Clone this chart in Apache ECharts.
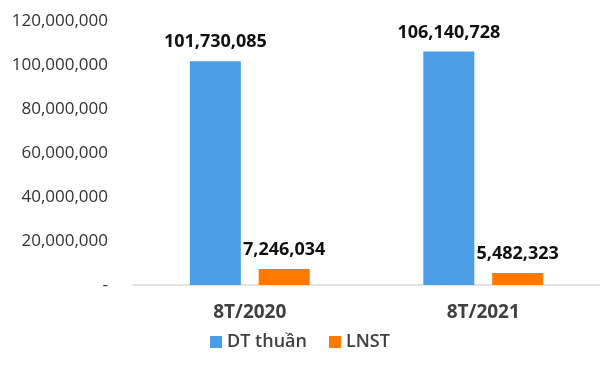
<!DOCTYPE html>
<html><head><meta charset="utf-8">
<script src="https://cdn.jsdelivr.net/npm/echarts@6/dist/echarts.min.js"></script>
<style>html,body{margin:0;padding:0;background:#fff}#c{width:600px;height:371px}</style>
</head><body><div id="c"></div>
<script>
var categories = ['8T/2020', '8T/2021'];
var dtThuan = [101730085, 106140728];
var lnst = [7246034, 5482323];
var seriesNames = ['DT thuần', 'LNST'];
var yTicks = [0, 20000000, 40000000, 60000000, 80000000, 100000000, 120000000];

function fmt(v){ return v === 0 ? '-' : v.toString().replace(/\B(?=(\d{3})+(?!\d))/g, ','); }
var font = 'Open Sans';
var chart = echarts.init(document.getElementById('c'));
var lbl = {show:true, position:'top', distance:10, formatter:function(p){return fmt(p.value);}, fontFamily:font, fontWeight:'bold', fontSize:18, color:'#111'};
chart.setOption({
  animation:false,
  textStyle:{fontFamily:font},
  grid:{left:133, right:-3, top:21, bottom:86},
  legend:{data:seriesNames, bottom:15, left:'center', itemWidth:12, itemHeight:12, itemGap:22, icon:'rect',
    textStyle:{fontFamily:font, fontSize:18, fontWeight:600, color:'#404040'}},
  xAxis:{type:'category', data:categories, axisTick:{show:false},
    axisLine:{lineStyle:{color:'#d9d9d9', width:1.5}},
    axisLabel:{fontFamily:font, fontSize:19, fontWeight:'bold', color:'#404040', margin:18}},
  yAxis:{type:'value', min:yTicks[0], max:yTicks[yTicks.length-1], interval:20000000,
    splitLine:{show:false}, axisLine:{show:false}, axisTick:{show:false},
    axisLabel:{fontFamily:font, fontSize:17, color:'#333', margin:25, formatter:fmt}},
  series:[
    {name:seriesNames[0], type:'bar', data:dtThuan, barWidth:51, barGap:'35%', itemStyle:{color:'#4a9de6'}, label:lbl},
    {name:seriesNames[1], type:'bar', data:lnst, barWidth:51, itemStyle:{color:'#ff7800'}, label:lbl}
  ]
});
</script></body></html>
